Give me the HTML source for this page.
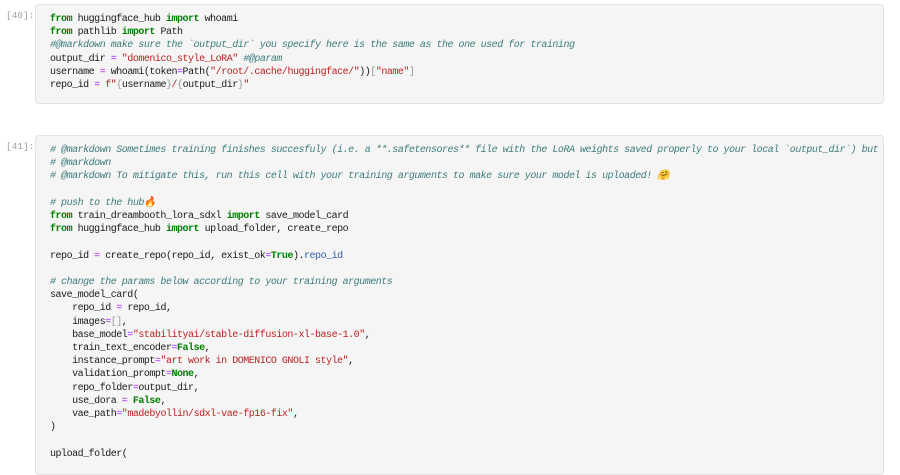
<!DOCTYPE html>
<html><head><meta charset="utf-8"><style>
body{margin:0;background:#fff;width:900px;height:464px;overflow:hidden;font-family:"Liberation Mono",monospace;}
.p{position:absolute;left:6px;font-size:9.5px;color:#9e9e9e;}
.c{position:absolute;left:35px;width:849px;background:#f5f5f5;border:1px solid #e3e3e3;border-radius:4px;box-sizing:border-box;overflow:hidden;}
pre{margin:0;padding:8px 0 0 14px;font-family:"Liberation Mono",monospace;font-size:10px;letter-spacing:-0.48px;line-height:13.2px;color:#1a1a1a;white-space:pre;}
.k{color:#008000;font-weight:bold}
.s{color:#ba2121}
.m{color:#3d7b7b;font-style:italic}
.o{color:#aa22ff}
.b{color:#999}
.a{color:#2f5dab}
</style></head><body>
<div class="p" style="top:10px">[40]:</div>
<div class="c" style="top:4px;height:100px"><pre><span class="k">from</span> huggingface_hub <span class="k">import</span> whoami
<span class="k">from</span> pathlib <span class="k">import</span> Path
<span class="m">#@markdown make sure the `output_dir` you specify here is the same as the one used for training</span>
output_dir <span class="o">=</span> <span class="s">"domenico_style_LoRA"</span> <span class="m">#@param</span>
username <span class="o">=</span> whoami(token<span class="o">=</span>Path(<span class="s">"/root/.cache/huggingface/"</span>))<span class="b">[</span><span class="s">"name"</span><span class="b">]</span>
repo_id <span class="o">=</span> <span class="s">f"</span><span class="b">{</span>username<span class="b">}</span><span class="s">/</span><span class="b">{</span>output_dir<span class="b">}</span><span class="s">"</span></pre></div>
<div class="p" style="top:141px">[41]:</div>
<div class="c" style="top:135px;height:340px"><pre><span class="m"># @markdown Sometimes training finishes succesfuly (i.e. a **.safetensores** file with the LoRA weights saved properly to your local `output_dir`) but there</span>
<span class="m"># @markdown</span>
<span class="m"># @markdown To mitigate this, run this cell with your training arguments to make sure your model is uploaded! 🤗</span>

<span class="m"># push to the hub🔥</span>
<span class="k">from</span> train_dreambooth_lora_sdxl <span class="k">import</span> save_model_card
<span class="k">from</span> huggingface_hub <span class="k">import</span> upload_folder, create_repo

repo_id <span class="o">=</span> create_repo(repo_id, exist_ok<span class="o">=</span><span class="k">True</span>).<span class="a">repo_id</span>

<span class="m"># change the params below according to your training arguments</span>
save_model_card(
    repo_id <span class="o">=</span> repo_id,
    images<span class="o">=</span><span class="b">[]</span>,
    base_model<span class="o">=</span><span class="s">"stabilityai/stable-diffusion-xl-base-1.0"</span>,
    train_text_encoder<span class="o">=</span><span class="k">False</span>,
    instance_prompt<span class="o">=</span><span class="s">"art work in DOMENICO GNOLI style"</span>,
    validation_prompt<span class="o">=</span><span class="k">None</span>,
    repo_folder<span class="o">=</span>output_dir,
    use_dora <span class="o">=</span> <span class="k">False</span>,
    vae_path<span class="o">=</span><span class="s">"madebyollin/sdxl-vae-fp16-fix"</span>,
)

upload_folder(</pre></div>
</body></html>
